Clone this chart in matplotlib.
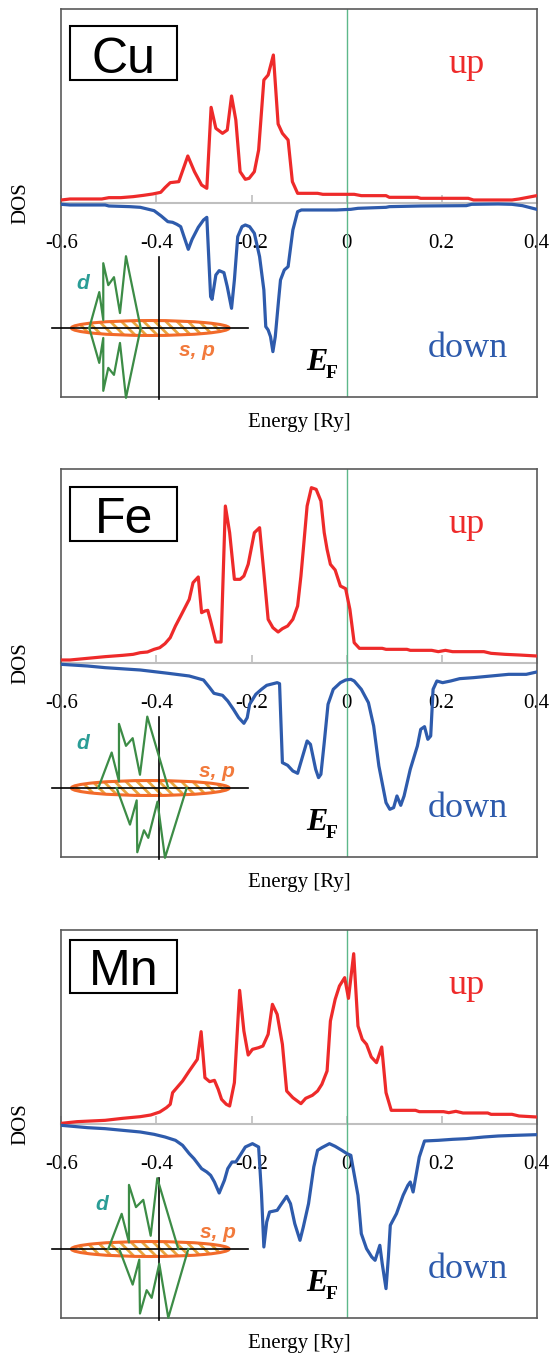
import matplotlib
matplotlib.use('Agg')
import matplotlib.pyplot as plt
from matplotlib.patches import Ellipse, Rectangle

# ---------------- data ----------------
elements = ['Cu', 'Fe', 'Mn']
energy_ticks = [-0.6, -0.4, -0.2, 0.0, 0.2, 0.4]
tick_labels = ['-0.6', '-0.4', '-0.2', '0', '0.2', '0.4']

# Cu
cu_up_e = [-0.600, -0.582, -0.515, -0.500, -0.475, -0.449, -0.427, -0.408, -0.391, -0.382,
           -0.371, -0.353, -0.334, -0.320, -0.305, -0.294, -0.285, -0.275, -0.261, -0.251,
           -0.242, -0.233, -0.224, -0.213, -0.205, -0.194, -0.185, -0.174, -0.165, -0.154,
           -0.144, -0.135, -0.123, -0.114, -0.103, -0.061, -0.050, 0.016, 0.031, 0.083,
           0.090, 0.149, 0.156, 0.256, 0.267, 0.348, 0.363, 0.400]
cu_up_dos = [0.10, 0.13, 0.13, 0.17, 0.17, 0.20, 0.24, 0.28, 0.33, 0.47,
             0.62, 0.65, 1.42, 0.95, 0.55, 0.45, 2.88, 2.25, 2.10, 2.20,
             3.22, 2.50, 0.95, 0.72, 0.75, 0.95, 1.60, 3.70, 3.85, 4.45,
             2.38, 2.10, 1.90, 0.65, 0.30, 0.30, 0.27, 0.27, 0.23, 0.23,
             0.18, 0.18, 0.15, 0.15, 0.10, 0.10, 0.13, 0.23]
cu_dn_e = [-0.600, -0.582, -0.508, -0.500, -0.456, -0.434, -0.405, -0.390, -0.376, -0.366,
           -0.357, -0.349, -0.342, -0.333, -0.325, -0.312, -0.301, -0.294, -0.286, -0.283,
           -0.275, -0.268, -0.258, -0.251, -0.242, -0.236, -0.229, -0.220, -0.213, -0.204,
           -0.194, -0.183, -0.174, -0.170, -0.165, -0.160, -0.155, -0.150, -0.143, -0.139,
           -0.131, -0.123, -0.113, -0.103, -0.095, -0.021, 0.009, 0.024, 0.083, 0.090,
           0.156, 0.252, 0.263, 0.319, 0.348, 0.370, 0.400]
cu_dn_dos = [-0.03, -0.05, -0.05, -0.08, -0.10, -0.12, -0.22, -0.38, -0.55, -0.57,
             -0.63, -0.70, -1.00, -1.38, -1.08, -0.72, -0.50, -0.42, -2.80, -2.88,
             -2.15, -2.02, -2.08, -2.50, -3.15, -2.30, -1.00, -0.70, -0.65, -0.70,
             -0.90, -1.60, -2.60, -3.70, -3.80, -4.00, -4.45, -4.00, -2.90, -2.30,
             -2.00, -1.90, -0.80, -0.25, -0.20, -0.20, -0.18, -0.15, -0.12, -0.10,
             -0.08, -0.07, -0.03, -0.02, -0.03, -0.07, -0.18]

# Fe
fe_up_e = [-0.600, -0.582, -0.545, -0.508, -0.471, -0.449, -0.434, -0.419, -0.405, -0.393,
           -0.382, -0.371, -0.360, -0.349, -0.340, -0.331, -0.323, -0.312, -0.305, -0.298,
           -0.292, -0.286, -0.275, -0.264, -0.255, -0.246, -0.236, -0.224, -0.216, -0.207,
           -0.194, -0.183, -0.174, -0.165, -0.155, -0.144, -0.135, -0.124, -0.113, -0.103,
           -0.096, -0.091, -0.083, -0.074, -0.064, -0.054, -0.047, -0.041, -0.034, -0.024,
           -0.013, -0.002, 0.007, 0.016, 0.027, 0.046, 0.075, 0.083, 0.127, 0.134,
           0.179, 0.193, 0.208, 0.223, 0.289, 0.304, 0.333, 0.363, 0.400]
fe_up_dos = [0.10, 0.10, 0.15, 0.20, 0.24, 0.27, 0.32, 0.34, 0.42, 0.47,
             0.59, 0.77, 1.12, 1.42, 1.67, 1.92, 2.42, 2.59, 1.52, 1.57,
             1.59, 1.27, 0.64, 0.64, 4.72, 3.92, 2.52, 2.52, 2.62, 2.97,
             3.92, 4.07, 2.72, 1.32, 1.07, 0.94, 1.04, 1.12, 1.32, 1.72,
             2.62, 3.42, 4.72, 5.27, 5.22, 4.87, 3.92, 3.42, 2.97, 2.80,
             2.32, 2.24, 1.62, 0.62, 0.45, 0.45, 0.45, 0.42, 0.42, 0.39,
             0.39, 0.35, 0.39, 0.35, 0.35, 0.30, 0.27, 0.25, 0.22]
fe_dn_e = [-0.600, -0.545, -0.508, -0.434, -0.375, -0.331, -0.301, -0.288, -0.279, -0.261,
           -0.250, -0.238, -0.227, -0.216, -0.209, -0.204, -0.191, -0.179, -0.168, -0.146,
           -0.141, -0.135, -0.124, -0.113, -0.103, -0.083, -0.076, -0.065, -0.059, -0.054,
           -0.047, -0.039, -0.028, -0.013, -0.002, 0.009, 0.016, 0.031, 0.046, 0.057,
           0.068, 0.083, 0.091, 0.099, 0.106, 0.114, 0.121, 0.134, 0.149, 0.156,
           0.164, 0.171, 0.177, 0.182, 0.190, 0.202, 0.219, 0.238, 0.267, 0.304,
           0.341, 0.378, 0.400]
fe_dn_dos = [-0.03, -0.08, -0.13, -0.20, -0.30, -0.38, -0.50, -0.73, -0.90, -0.96,
             -1.13, -1.38, -1.63, -1.80, -1.63, -1.23, -0.93, -0.78, -0.66, -0.58,
             -0.61, -2.98, -3.06, -3.23, -3.30, -2.33, -2.43, -3.18, -3.43, -3.33,
             -2.38, -1.23, -0.78, -0.58, -0.50, -0.48, -0.53, -0.78, -1.18, -1.88,
             -3.08, -4.18, -4.38, -4.33, -3.98, -4.26, -3.98, -3.18, -2.48, -1.98,
             -1.90, -2.28, -2.18, -0.78, -0.53, -0.58, -0.53, -0.46, -0.43, -0.38,
             -0.33, -0.33, -0.26]

# Mn
mn_up_e = [-0.600, -0.567, -0.508, -0.471, -0.434, -0.412, -0.393, -0.379, -0.371, -0.366,
           -0.357, -0.345, -0.331, -0.314, -0.306, -0.298, -0.288, -0.278, -0.270, -0.263,
           -0.253, -0.246, -0.236, -0.225, -0.216, -0.207, -0.198, -0.185, -0.176, -0.165,
           -0.156, -0.146, -0.135, -0.126, -0.113, -0.096, -0.086, -0.072, -0.061, -0.052,
           -0.041, -0.034, -0.024, -0.015, -0.004, 0.004, 0.015, 0.024, 0.033, 0.042,
           0.052, 0.063, 0.074, 0.083, 0.094, 0.145, 0.153, 0.204, 0.215, 0.230,
           0.245, 0.297, 0.304, 0.348, 0.363, 0.400]
mn_up_dos = [0.03, 0.08, 0.12, 0.18, 0.23, 0.28, 0.37, 0.50, 0.60, 0.95,
             1.10, 1.30, 1.60, 1.95, 2.78, 1.40, 1.28, 1.32, 1.05, 0.75,
             0.60, 0.55, 1.25, 4.02, 2.80, 2.08, 2.25, 2.30, 2.35, 2.70,
             3.60, 3.30, 2.40, 1.00, 0.80, 0.62, 0.78, 0.87, 1.00, 1.20,
             1.60, 3.10, 3.75, 4.15, 4.40, 3.78, 5.12, 2.95, 2.55, 2.40,
             2.02, 1.85, 2.32, 0.95, 0.42, 0.42, 0.38, 0.38, 0.35, 0.39,
             0.34, 0.34, 0.30, 0.30, 0.25, 0.22]
mn_dn_e = [-0.600, -0.545, -0.508, -0.471, -0.434, -0.405, -0.382, -0.360, -0.345, -0.331,
           -0.321, -0.305, -0.294, -0.286, -0.278, -0.268, -0.257, -0.250, -0.241, -0.233,
           -0.224, -0.213, -0.198, -0.185, -0.179, -0.174, -0.168, -0.162, -0.146, -0.139,
           -0.126, -0.118, -0.109, -0.098, -0.091, -0.080, -0.069, -0.061, -0.052, -0.036,
           -0.024, -0.010, 0.001, 0.009, 0.012, 0.024, 0.031, 0.042, 0.053, 0.060,
           0.070, 0.075, 0.083, 0.088, 0.092, 0.105, 0.119, 0.129, 0.134, 0.140,
           0.153, 0.164, 0.193, 0.223, 0.252, 0.289, 0.319, 0.356, 0.400]
mn_dn_dos = [-0.03, -0.10, -0.13, -0.18, -0.23, -0.30, -0.38, -0.48, -0.63, -0.88,
             -1.03, -1.33, -1.43, -1.53, -1.73, -2.06, -1.68, -1.33, -1.13, -1.13,
             -0.93, -0.68, -0.58, -0.68, -2.08, -3.68, -2.93, -2.63, -2.58, -2.43,
             -2.16, -2.38, -2.98, -3.48, -3.08, -2.38, -1.28, -0.78, -0.70, -0.58,
             -0.66, -0.78, -0.88, -0.93, -1.18, -2.13, -3.28, -3.73, -3.98, -4.08,
             -3.63, -4.18, -4.93, -3.98, -3.03, -2.68, -2.13, -1.83, -1.73, -2.03,
             -0.98, -0.50, -0.48, -0.45, -0.43, -0.38, -0.35, -0.33, -0.31]

# schematic insets (d band zigzag, arbitrary units)
cu_d_up_x = [-69.7, -59.7, -55.7, -55.7, -50.7, -45.0, -39.0, -33.0, -18.3]
cu_d_up_y = [0, 36, 8, 65, 43, 51, 15, 72, 0]
cu_d_dn_x = [-69.7, -59.7, -55.7, -55.7, -50.7, -45.0, -39.0, -33.0, -18.3]
cu_d_dn_y = [0, -35, -10, -63, -40, -47, -15, -70, 0]
fe_d_up_x = [-60.7, -47.3, -40.0, -40.0, -33.0, -26.3, -19.0, -11.7, 9.3]
fe_d_up_y = [0, 35.6, 6.6, 64.3, 42.3, 50.0, 13.3, 71.6, 0]
fe_d_dn_x = [-42.3, -29.0, -22.3, -21.7, -15.0, -10.7, -1.5, 6.0, 27.7]
fe_d_dn_y = [0, -36.7, -12.4, -64.4, -42.4, -50.0, -13.7, -70.0, 0]
mn_d_up_x = [-50.7, -37.3, -30.0, -30.0, -23.0, -15.7, -8.3, -1.7, 19.3]
mn_d_up_y = [0, 35.3, 6.6, 64.3, 42.0, 49.3, 13.3, 71.0, 0]
mn_d_dn_x = [-39.7, -26.3, -19.7, -19.0, -12.3, -7.3, 0.3, 9.3, 29.3]
mn_d_dn_y = [0, -35.7, -10.7, -64.7, -41.3, -49.0, -14.7, -69.0, 0]

panels = [
    (cu_up_e, cu_up_dos, cu_dn_e, cu_dn_dos, cu_d_up_x, cu_d_up_y, cu_d_dn_x, cu_d_dn_y),
    (fe_up_e, fe_up_dos, fe_dn_e, fe_dn_dos, fe_d_up_x, fe_d_up_y, fe_d_dn_x, fe_d_dn_y),
    (mn_up_e, mn_up_dos, mn_dn_e, mn_dn_dos, mn_d_up_x, mn_d_up_y, mn_d_dn_x, mn_d_dn_y),
]

# ---------------- style / layout ----------------
SERIF = 'Liberation Serif'
SANS = 'Liberation Sans'
RED = '#EE2A2A'
BLUE = '#2E5BAC'
plt.rcParams['hatch.linewidth'] = 2.0

fig = plt.figure(figsize=(5.5, 13.56), dpi=100)
bottoms = [0.70701, 0.36777, 0.02780]
box_y0 = [0.817, 0.816, 0.839]
box_h = [0.139, 0.139, 0.1356]
d_pos = [(-75.7, 45), (-75.7, 45), (-57.3, 44.3)]
sp_pos = [(38, -23), (57.7, 16.6), (59.3, 16.6)]

for i, (name, pdata) in enumerate(zip(elements, panels)):
    ue, ud, de, dd, dux, duy, ddx, ddy = pdata
    ax = fig.add_axes([0.1116, bottoms[i], 0.8642, 0.2861])
    ax.set_xlim(-0.6, 0.4)
    ax.set_ylim(-5.82, 5.82)
    ax.set_xticks([])
    ax.set_yticks([])
    for sp in ax.spines.values():
        sp.set_color('#5A5A5A')
        sp.set_linewidth(1.2)

    # zero axis with energy ticks
    sec = ax.secondary_xaxis(0.5)
    sec.xaxis.set_ticks_position('bottom')
    sec.set_xticks(energy_ticks, labels=tick_labels)
    sec.tick_params(axis='x', which='both', direction='in', length=6, width=1.2,
                    color='#BFBFBF', pad=22, labelsize=15, labelfontfamily=SERIF,
                    bottom=True, top=False, labelbottom=True, labeltop=False)
    for sp in sec.spines.values():
        sp.set_color('#BFBFBF')
        sp.set_linewidth(1.5)

    ax.axvline(0, color='#5DB88A', lw=1.0, zorder=1)
    ax.plot(ue, ud, color=RED, lw=2.3, zorder=3, solid_joinstyle='round')
    ax.plot(de, dd, color=BLUE, lw=2.3, zorder=3, solid_joinstyle='round')

    ax.set_xlabel('Energy [Ry]', fontsize=15, family=SERIF, labelpad=11)
    ax.set_ylabel('DOS', fontsize=15, family=SERIF, labelpad=22)

    ax.text(0.8533, 0.835, 'up', transform=ax.transAxes, ha='center', va='baseline',
            fontsize=26, family=SERIF, color=RED)
    ax.text(0.8555, 0.1046, 'down', transform=ax.transAxes, ha='center', va='baseline',
            fontsize=26, family=SERIF, color=BLUE)

    ax.add_patch(Rectangle((0.0185, box_y0[i]), 0.2249, box_h[i], transform=ax.transAxes,
                           fill=False, edgecolor='black', lw=1.5, zorder=5))
    ax.text(0.1309, box_y0[i] + 0.0193, name, transform=ax.transAxes, ha='center',
            va='baseline', fontsize=36, family=SANS, color='black', zorder=6)

    ax.text(0.5146, 0.0696, 'E', transform=ax.transAxes, ha='left', va='baseline',
            fontsize=23, family=SERIF, fontweight='bold', fontstyle='italic')
    ax.text(0.5565, 0.049, 'F', transform=ax.transAxes, ha='left', va='baseline',
            fontsize=14, family=SERIF, fontweight='bold')

    # schematic inset
    ins = ax.inset_axes([-0.0198, -0.00515, 0.4124, 0.3675])
    ins.set_xlim(-107, 89)
    ins.set_ylim(-71.5, 71.5)
    ins.set_axis_off()
    ins.patch.set_alpha(0)
    ins.add_patch(Ellipse((-8.7, 0), 157.7, 15, facecolor='white', edgecolor='#E9A53E',
                          hatch='\\\\\\', lw=0, zorder=1))
    ins.add_patch(Ellipse((-8.7, 0), 157.7, 15, fill=False, edgecolor='#F26A2A',
                          lw=2.2, zorder=2))
    ins.axhline(0, color='black', lw=1.2, zorder=3, clip_on=False)
    ins.axvline(0, color='black', lw=1.2, zorder=3, clip_on=False)
    ins.plot(dux, duy, color='#3C8C46', lw=1.6, zorder=4, clip_on=False)
    ins.plot(ddx, ddy, color='#3C8C46', lw=1.6, zorder=4, clip_on=False)
    ins.text(d_pos[i][0], d_pos[i][1], 'd', ha='center', va='center', fontsize=15,
             family=SANS, fontweight='bold', fontstyle='italic', color='#2A9D96')
    ins.text(sp_pos[i][0], sp_pos[i][1], 's, p', ha='center', va='center', fontsize=15,
             family=SANS, fontweight='bold', fontstyle='italic', color='#F27A3C')

fig.savefig('out.png', dpi=100)
